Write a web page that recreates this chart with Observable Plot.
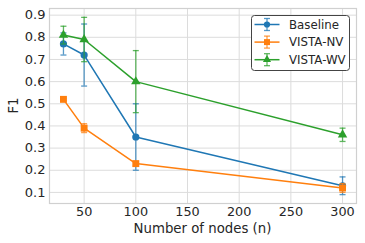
<!DOCTYPE html>
<html>
<head>
<meta charset="utf-8">
<script src="https://cdn.jsdelivr.net/npm/d3@7"></script>
<script src="https://cdn.jsdelivr.net/npm/@observablehq/plot@0.6"></script>
<style>
  html, body { margin: 0; padding: 0; background: #fff; }
  #chart svg { display: block; }
</style>
</head>
<body>
<div id="chart"></div>
<script>
const nodes = [30, 50, 100, 300];
const seriesNames = ["Baseline", "VISTA-NV", "VISTA-WV"];
const baseline = [0.77, 0.72, 0.35, 0.13];
const baselineErr = [0.05, 0.14, 0.15, 0.04];
const vistaNV = [0.52, 0.39, 0.23, 0.12];
const vistaNVErr = [0.005, 0.02, 0.01, 0.02];
const vistaWV = [0.81, 0.79, 0.60, 0.36];
const vistaWVErr = [0.04, 0.10, 0.14, 0.03];
const xTicks = [50, 100, 150, 200, 250, 300];
const yTicks = [0.1, 0.2, 0.3, 0.4, 0.5, 0.6, 0.7, 0.8, 0.9];

const colors = ["#1f77b4", "#ff7f0e", "#2ca02c"];
const symbols = ["circle", "square", "triangle"];
const radii = [3.6, 3.9, 3.5];
const values = [baseline, vistaNV, vistaWV];
const errs = [baselineErr, vistaNVErr, vistaWVErr];

const capSymbol = {
  draw(context, size) {
    const r = Math.sqrt(size / Math.PI);
    context.moveTo(-r, 0);
    context.lineTo(r, 0);
  }
};

const series = seriesNames.map((name, s) => ({
  name, color: colors[s], symbol: symbols[s], r: radii[s],
  rows: nodes.map((n, i) => ({
    n, f1: values[s][i], lo: values[s][i] - errs[s][i], hi: values[s][i] + errs[s][i]
  }))
}));

const marks = [
  Plot.gridX(xTicks, {stroke: "#dcdcdc", strokeOpacity: 1, strokeWidth: 1}),
  Plot.gridY(yTicks, {stroke: "#dcdcdc", strokeOpacity: 1, strokeWidth: 1}),
  Plot.frame({stroke: "#d0d0d0", strokeWidth: 1.2}),
  Plot.axisX(xTicks, {tickSize: 0, tickPadding: 3, fontSize: 12.8, label: null, fill: "#262626"}),
  Plot.axisY(yTicks, {tickSize: 0, tickPadding: 4, fontSize: 13, tickFormat: d3.format(".1f"), label: null, fill: "#262626"})
];

for (const s of series) {
  marks.push(
    Plot.ruleX(s.rows, {x: "n", y1: "lo", y2: "hi", stroke: s.color, strokeOpacity: 0.75, strokeWidth: 1.3}),
    Plot.dot(s.rows, {x: "n", y: "lo", symbol: capSymbol, r: 3, stroke: s.color, strokeOpacity: 0.75, strokeWidth: 1.3}),
    Plot.dot(s.rows, {x: "n", y: "hi", symbol: capSymbol, r: 3, stroke: s.color, strokeOpacity: 0.75, strokeWidth: 1.3}),
    Plot.line(s.rows, {x: "n", y: "f1", stroke: s.color, strokeWidth: 1.5}),
    Plot.dot(s.rows, {x: "n", y: "f1", symbol: s.symbol, r: s.r, fill: s.color, stroke: "none"})
  );
}

const svg = Plot.plot({
  width: 365,
  height: 243,
  marginLeft: 49,
  marginRight: 9,
  marginTop: 8,
  marginBottom: 40,
  style: {fontFamily: "DejaVu Sans", fontSize: "13px", color: "#262626", background: "#fff"},
  x: {domain: [16.5, 313.5]},
  y: {domain: [0.05, 0.93]},
  marks
});

const root = d3.select(svg);
// Axis titles
root.append("text").attr("x", 202.5).attr("y", 228.5).attr("dy", "0.35em")
  .attr("text-anchor", "middle").attr("font-size", "13.3px").attr("fill", "#262626")
  .text("Number of nodes (n)");
root.append("text").attr("transform", "translate(13.5,105.5) rotate(-90)").attr("dy", "0.35em")
  .attr("text-anchor", "middle").attr("font-size", "13.3px").attr("fill", "#262626")
  .text("F1");

// Legend
const lg = root.append("g").attr("font-family", "DejaVu Sans").attr("font-size", "11.8px").attr("text-anchor", "start");
lg.append("rect").attr("x", 251.5).attr("y", 15.5).attr("width", 98).attr("height", 55)
  .attr("rx", 3).attr("fill", "#fff").attr("stroke", "#444").attr("stroke-width", 1);
series.forEach((s, k) => {
  const cy = 24.5 + k * 17.6;
  const g = lg.append("g").attr("transform", `translate(267,${cy})`);
  g.append("line").attr("x1", -12.5).attr("x2", 12.5).attr("stroke", s.color).attr("stroke-width", 1.5);
  g.append("line").attr("y1", -6).attr("y2", 6).attr("stroke", s.color).attr("stroke-opacity", 0.75).attr("stroke-width", 1.3);
  g.append("line").attr("x1", -3).attr("x2", 3).attr("y1", -6).attr("y2", -6).attr("stroke", s.color).attr("stroke-opacity", 0.75).attr("stroke-width", 1.3);
  g.append("line").attr("x1", -3).attr("x2", 3).attr("y1", 6).attr("y2", 6).attr("stroke", s.color).attr("stroke-opacity", 0.75).attr("stroke-width", 1.3);
  const symType = {circle: d3.symbolCircle, square: d3.symbolSquare, triangle: d3.symbolTriangle}[s.symbol];
  g.append("path").attr("d", d3.symbol(symType, Math.PI * s.r * s.r * 0.75)()).attr("fill", s.color);
  lg.append("text").attr("x", 289).attr("y", cy).attr("dy", "0.35em").attr("fill", "#262626").text(s.name);
});

document.getElementById("chart").appendChild(svg);
</script>
</body>
</html>
